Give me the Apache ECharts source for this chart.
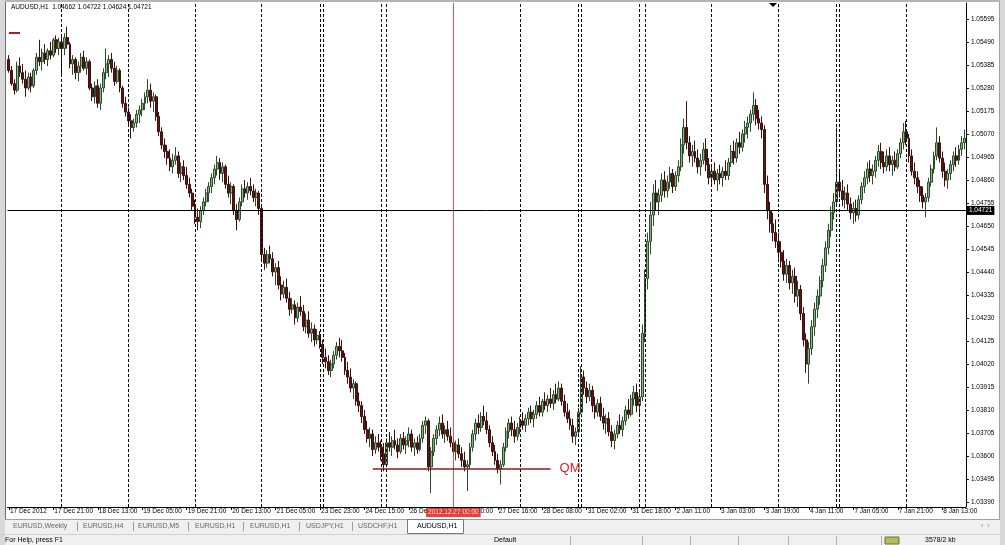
<!DOCTYPE html>
<html><head><meta charset="utf-8">
<script src="https://cdn.jsdelivr.net/npm/echarts/dist/echarts.min.js"></script>
<style>html,body{margin:0;padding:0;background:#fff}#c{width:1005px;height:545px}</style>
</head><body><div id="c"></div>
<script>
// ---- categories (trading sessions: day, first hour, last hour) ----
const sessions = [
 ['17 Dec',5,23],['18 Dec',0,23],['19 Dec',0,23],['20 Dec',0,23],['21 Dec',0,20],
 ['23 Dec',23,23],['24 Dec',0,20],['25 Dec',22,23],['26 Dec',0,23],['27 Dec',0,23],
 ['28 Dec',0,20],['30 Dec',23,23],['31 Dec',0,20],['1 Jan',22,23],['2 Jan',0,23],
 ['3 Jan',0,23],['4 Jan',0,20],['6 Jan',23,23],['7 Jan',0,23],['8 Jan',0,21]
];
const firstLabel = '17 Dec 2012';
const yTicks = [1.03390,1.03495,1.03600,1.03705,1.03810,1.03915,1.04020,1.04125,1.04230,1.04335,1.04440,1.04545,1.04650,1.04755,1.04860,1.04965,1.05070,1.05175,1.05280,1.05385,1.05490,1.05595];
const headerSymbol = 'AUDUSD,H1';
const headerOHLC = [1.04662, 1.04722, 1.04624, 1.04721];
const lastPrice = 1.04721;
const crossTime = '27 Dec 00:00';
const crossLabel = '2012.12.27 00:00';
const qmPrice = 1.03543, qmFrom = '24 Dec 18:00', qmTo = '28 Dec 11:00';
const markPrice = 1.05530, markFrom = '17 Dec 05:00', markTo = '17 Dec 09:00';
const tabs = ['EURUSD,Weekly','EURUSD,H4','EURUSD,M5','EURUSD,H1','EURUSD,H1','USDJPY,H1','USDCHF,H1','AUDUSD,H1'];

// ---- hourly bars [open, high, low, close] ----
const dec17 = [[1.0541,1.0543,1.0535,1.0536],[1.0536,1.0538,1.0529,1.0530],[1.0530,1.0532,1.0525,1.0527],[1.0527,1.0540,1.0526,1.0538],[1.0538,1.0542,1.0533,1.0535],[1.0535,1.0539,1.0530,1.0532],[1.0532,1.0536,1.0524,1.0528],[1.0528,1.0535,1.0527,1.0533],[1.0533,1.0535,1.0526,1.0529],[1.0529,1.0537,1.0528,1.0536],[1.0536,1.0544,1.0534,1.0542],[1.0542,1.0550,1.0538,1.0540],[1.0540,1.0546,1.0536,1.0544],[1.0544,1.0548,1.0539,1.0541],[1.0541,1.0546,1.0538,1.0545],[1.0545,1.0549,1.0541,1.0543],[1.0543,1.0551,1.0542,1.0550],[1.0550,1.0552,1.0544,1.0546],[1.0546,1.0551,1.0543,1.0549]];
const dec18 = [[1.0549,1.0552,1.0534,1.0546],[1.0546,1.0553,1.0543,1.0551],[1.0551,1.0556,1.0546,1.0548],[1.0548,1.0549,1.0537,1.0539],[1.0539,1.0543,1.0534,1.0541],[1.0541,1.0542,1.0532,1.0535],[1.0535,1.0540,1.0531,1.0538],[1.0538,1.0544,1.0535,1.0542],[1.0542,1.0545,1.0536,1.0537],[1.0537,1.0542,1.0534,1.0540],[1.0540,1.0541,1.0527,1.0528],[1.0528,1.0530,1.0522,1.0524],[1.0524,1.0531,1.0521,1.0529],[1.0529,1.0532,1.0519,1.0521],[1.0521,1.0530,1.0518,1.0528],[1.0528,1.0537,1.0526,1.0535],[1.0535,1.0546,1.0532,1.0539],[1.0539,1.0543,1.0533,1.0541],[1.0541,1.0544,1.0535,1.0537],[1.0537,1.0540,1.0529,1.0531],[1.0531,1.0538,1.0530,1.0536],[1.0536,1.0537,1.0526,1.0528],[1.0528,1.0529,1.0519,1.0521],[1.0521,1.0524,1.0515,1.0517]];
const dec19 = [[1.0517,1.0519,1.0511,1.0513],[1.0513,1.0516,1.0505,1.0510],[1.0510,1.0514,1.0508,1.0512],[1.0512,1.0518,1.0510,1.0516],[1.0516,1.0520,1.0512,1.0518],[1.0518,1.0523,1.0515,1.0521],[1.0521,1.0526,1.0518,1.0524],[1.0524,1.0532,1.0521,1.0527],[1.0527,1.0530,1.0519,1.0522],[1.0522,1.0526,1.0517,1.0524],[1.0524,1.0525,1.0513,1.0515],[1.0515,1.0517,1.0506,1.0508],[1.0508,1.0510,1.0500,1.0502],[1.0502,1.0505,1.0496,1.0499],[1.0499,1.0502,1.0493,1.0496],[1.0496,1.0500,1.0490,1.0492],[1.0492,1.0498,1.0489,1.0495],[1.0495,1.0501,1.0493,1.0497],[1.0497,1.0499,1.0487,1.0489],[1.0489,1.0494,1.0485,1.0492],[1.0492,1.0495,1.0486,1.0488],[1.0488,1.0492,1.0482,1.0484],[1.0484,1.0487,1.0478,1.0480],[1.0480,1.0482,1.0472,1.0474]];
const dec20 = [[1.0474,1.0477,1.0466,1.0469],[1.0469,1.0473,1.0463,1.0467],[1.0467,1.0474,1.0464,1.0472],[1.0472,1.0478,1.0470,1.0476],[1.0476,1.0482,1.0474,1.0480],[1.0480,1.0485,1.0476,1.0483],[1.0483,1.0489,1.0480,1.0487],[1.0487,1.0493,1.0484,1.0491],[1.0491,1.0497,1.0488,1.0494],[1.0494,1.0496,1.0486,1.0489],[1.0489,1.0494,1.0485,1.0492],[1.0492,1.0493,1.0482,1.0484],[1.0484,1.0488,1.0478,1.0480],[1.0480,1.0485,1.0475,1.0483],[1.0483,1.0484,1.0470,1.0472],[1.0472,1.0475,1.0463,1.0468],[1.0468,1.0478,1.0467,1.0476],[1.0476,1.0484,1.0474,1.0482],[1.0482,1.0486,1.0478,1.0480],[1.0480,1.0485,1.0477,1.0483],[1.0483,1.0487,1.0479,1.0481],[1.0481,1.0484,1.0476,1.0478],[1.0478,1.0482,1.0474,1.0480],[1.0480,1.0481,1.0470,1.0473]];
const dec21 = [[1.0473,1.0474,1.0449,1.0452],[1.0452,1.0455,1.0445,1.0448],[1.0448,1.0454,1.0446,1.0452],[1.0452,1.0456,1.0448,1.0450],[1.0450,1.0453,1.0442,1.0444],[1.0444,1.0448,1.0438,1.0446],[1.0446,1.0449,1.0436,1.0438],[1.0438,1.0442,1.0431,1.0434],[1.0434,1.0440,1.0432,1.0437],[1.0437,1.0441,1.0430,1.0432],[1.0432,1.0435,1.0424,1.0427],[1.0427,1.0432,1.0425,1.0429],[1.0429,1.0431,1.0420,1.0423],[1.0423,1.0430,1.0421,1.0428],[1.0428,1.0433,1.0424,1.0426],[1.0426,1.0429,1.0417,1.0419],[1.0419,1.0425,1.0416,1.0422],[1.0422,1.0426,1.0414,1.0416],[1.0416,1.0421,1.0412,1.0418],[1.0418,1.0420,1.0410,1.0413],[1.0413,1.0418,1.0411,1.0415]];
const dec23 = [[1.0415,1.0417,1.0409,1.0411]];
const dec24 = [[1.0411,1.0413,1.0402,1.0405],[1.0405,1.0409,1.0400,1.0403],[1.0403,1.0406,1.0397,1.0399],[1.0399,1.0404,1.0396,1.0402],[1.0402,1.0408,1.0400,1.0406],[1.0406,1.0412,1.0404,1.0410],[1.0410,1.0414,1.0405,1.0408],[1.0408,1.0413,1.0403,1.0405],[1.0405,1.0407,1.0397,1.0399],[1.0399,1.0403,1.0393,1.0396],[1.0396,1.0400,1.0389,1.0391],[1.0391,1.0395,1.0386,1.0393],[1.0393,1.0394,1.0383,1.0385],[1.0385,1.0389,1.0380,1.0383],[1.0383,1.0385,1.0375,1.0378],[1.0378,1.0381,1.0370,1.0372],[1.0372,1.0376,1.0366,1.0368],[1.0368,1.0373,1.0364,1.0370],[1.0370,1.0372,1.0360,1.0363],[1.0363,1.0369,1.0361,1.0366],[1.0366,1.0370,1.0362,1.0364]];
const dec25 = [[1.0364,1.0367,1.0358,1.0361],[1.0361,1.0366,1.0353,1.0356]];
const dec26 = [[1.0356,1.0368,1.0355,1.0366],[1.0366,1.0371,1.0362,1.0364],[1.0364,1.0369,1.0360,1.0367],[1.0367,1.0372,1.0363,1.0365],[1.0365,1.0368,1.0359,1.0362],[1.0362,1.0370,1.0361,1.0368],[1.0368,1.0371,1.0363,1.0365],[1.0365,1.0369,1.0361,1.0367],[1.0367,1.0373,1.0364,1.0370],[1.0370,1.0372,1.0362,1.0364],[1.0364,1.0368,1.0360,1.0366],[1.0366,1.0369,1.0361,1.0363],[1.0363,1.0370,1.0362,1.0368],[1.0368,1.0376,1.0366,1.0374],[1.0374,1.0378,1.0370,1.0376],[1.0376,1.0377,1.0353,1.0355],[1.0355,1.0364,1.0343,1.0362],[1.0362,1.0370,1.0360,1.0368],[1.0368,1.0374,1.0365,1.0372],[1.0372,1.0378,1.0369,1.0375],[1.0375,1.0379,1.0368,1.0370],[1.0370,1.0374,1.0366,1.0372],[1.0372,1.0376,1.0367,1.0369],[1.0369,1.0373,1.0364,1.0366]];
const dec27 = [[1.0366,1.0368,1.0360,1.0362],[1.0362,1.0367,1.0358,1.0365],[1.0365,1.0368,1.0359,1.0361],[1.0361,1.0364,1.0355,1.0358],[1.0358,1.0362,1.0353,1.0355],[1.0355,1.0358,1.0344,1.0356],[1.0356,1.0366,1.0354,1.0364],[1.0364,1.0372,1.0362,1.0370],[1.0370,1.0377,1.0367,1.0375],[1.0375,1.0379,1.0370,1.0373],[1.0373,1.0380,1.0371,1.0378],[1.0378,1.0383,1.0374,1.0376],[1.0376,1.0380,1.0370,1.0372],[1.0372,1.0374,1.0364,1.0366],[1.0366,1.0369,1.0360,1.0362],[1.0362,1.0365,1.0356,1.0358],[1.0358,1.0361,1.0352,1.0354],[1.0354,1.0358,1.0347,1.0356],[1.0356,1.0366,1.0355,1.0364],[1.0364,1.0373,1.0362,1.0371],[1.0371,1.0377,1.0368,1.0375],[1.0375,1.0378,1.0369,1.0372],[1.0372,1.0376,1.0366,1.0369],[1.0369,1.0375,1.0367,1.0373]];
const dec28 = [[1.0373,1.0378,1.0370,1.0376],[1.0376,1.0380,1.0372,1.0374],[1.0374,1.0379,1.0371,1.0377],[1.0377,1.0382,1.0374,1.0380],[1.0380,1.0383,1.0375,1.0377],[1.0377,1.0381,1.0373,1.0379],[1.0379,1.0385,1.0377,1.0383],[1.0383,1.0387,1.0378,1.0380],[1.0380,1.0386,1.0378,1.0385],[1.0385,1.0389,1.0381,1.0383],[1.0383,1.0388,1.0380,1.0386],[1.0386,1.0391,1.0382,1.0384],[1.0384,1.0390,1.0381,1.0388],[1.0388,1.0393,1.0384,1.0386],[1.0386,1.0394,1.0385,1.0391],[1.0391,1.0393,1.0383,1.0385],[1.0385,1.0388,1.0378,1.0380],[1.0380,1.0384,1.0375,1.0377],[1.0377,1.0381,1.0372,1.0374],[1.0374,1.0377,1.0366,1.0369],[1.0369,1.0373,1.0365,1.0371]];
const dec30 = [[1.0371,1.0382,1.0370,1.0380]];
const dec31 = [[1.0380,1.0401,1.0379,1.0396],[1.0396,1.0399,1.0388,1.0391],[1.0391,1.0394,1.0384,1.0387],[1.0387,1.0393,1.0385,1.0390],[1.0390,1.0392,1.0380,1.0383],[1.0383,1.0387,1.0377,1.0380],[1.0380,1.0386,1.0378,1.0384],[1.0384,1.0387,1.0376,1.0378],[1.0378,1.0382,1.0372,1.0375],[1.0375,1.0379,1.0370,1.0377],[1.0377,1.0380,1.0369,1.0371],[1.0371,1.0374,1.0364,1.0367],[1.0367,1.0372,1.0363,1.0370],[1.0370,1.0376,1.0368,1.0374],[1.0374,1.0379,1.0370,1.0372],[1.0372,1.0378,1.0369,1.0376],[1.0376,1.0383,1.0374,1.0381],[1.0381,1.0386,1.0377,1.0379],[1.0379,1.0388,1.0378,1.0386],[1.0386,1.0392,1.0383,1.0389],[1.0389,1.0393,1.0380,1.0383]];
const jan01 = [[1.0383,1.0390,1.0379,1.0387],[1.0387,1.0420,1.0385,1.0416]];
const jan02 = [[1.0416,1.0445,1.0412,1.0441],[1.0441,1.0462,1.0436,1.0458],[1.0458,1.0476,1.0452,1.0470],[1.0470,1.0484,1.0465,1.0480],[1.0480,1.0486,1.0472,1.0476],[1.0476,1.0482,1.0470,1.0479],[1.0479,1.0489,1.0476,1.0486],[1.0486,1.0490,1.0478,1.0481],[1.0481,1.0488,1.0478,1.0485],[1.0485,1.0492,1.0482,1.0489],[1.0489,1.0491,1.0480,1.0483],[1.0483,1.0490,1.0481,1.0488],[1.0488,1.0495,1.0485,1.0492],[1.0492,1.0505,1.0490,1.0502],[1.0502,1.0514,1.0498,1.0510],[1.0510,1.0522,1.0500,1.0503],[1.0503,1.0506,1.0494,1.0497],[1.0497,1.0502,1.0492,1.0499],[1.0499,1.0504,1.0494,1.0496],[1.0496,1.0500,1.0489,1.0492],[1.0492,1.0498,1.0488,1.0495],[1.0495,1.0503,1.0493,1.0500],[1.0500,1.0505,1.0490,1.0493],[1.0493,1.0496,1.0484,1.0487]];
const jan03 = [[1.0487,1.0493,1.0483,1.0490],[1.0490,1.0494,1.0484,1.0486],[1.0486,1.0491,1.0481,1.0489],[1.0489,1.0493,1.0484,1.0487],[1.0487,1.0492,1.0483,1.0490],[1.0490,1.0495,1.0486,1.0488],[1.0488,1.0496,1.0486,1.0494],[1.0494,1.0502,1.0492,1.0499],[1.0499,1.0504,1.0493,1.0496],[1.0496,1.0505,1.0494,1.0503],[1.0503,1.0508,1.0498,1.0501],[1.0501,1.0509,1.0499,1.0507],[1.0507,1.0513,1.0503,1.0510],[1.0510,1.0515,1.0505,1.0512],[1.0512,1.0518,1.0508,1.0516],[1.0516,1.0526,1.0513,1.0520],[1.0520,1.0523,1.0511,1.0514],[1.0514,1.0518,1.0509,1.0512],[1.0512,1.0515,1.0505,1.0509],[1.0509,1.0511,1.0480,1.0484],[1.0484,1.0488,1.0468,1.0472],[1.0472,1.0476,1.0462,1.0466],[1.0466,1.0471,1.0458,1.0462],[1.0462,1.0468,1.0455,1.0458]];
const jan04 = [[1.0458,1.0462,1.0450,1.0453],[1.0453,1.0458,1.0446,1.0449],[1.0449,1.0454,1.0440,1.0443],[1.0443,1.0450,1.0439,1.0447],[1.0447,1.0449,1.0436,1.0439],[1.0439,1.0445,1.0434,1.0442],[1.0442,1.0446,1.0430,1.0433],[1.0433,1.0440,1.0428,1.0436],[1.0436,1.0438,1.0422,1.0425],[1.0425,1.0428,1.0410,1.0413],[1.0413,1.0416,1.0398,1.0402],[1.0402,1.0412,1.0393,1.0409],[1.0409,1.0422,1.0406,1.0419],[1.0419,1.0430,1.0415,1.0427],[1.0427,1.0436,1.0423,1.0433],[1.0433,1.0442,1.0429,1.0440],[1.0440,1.0450,1.0437,1.0447],[1.0447,1.0458,1.0444,1.0455],[1.0455,1.0466,1.0452,1.0463],[1.0463,1.0474,1.0460,1.0471],[1.0471,1.0480,1.0468,1.0476]];
const jan06 = [[1.0476,1.0510,1.0474,1.0485]];
const jan07 = [[1.0485,1.0490,1.0478,1.0481],[1.0481,1.0486,1.0474,1.0477],[1.0477,1.0483,1.0473,1.0480],[1.0480,1.0484,1.0472,1.0475],[1.0475,1.0478,1.0468,1.0471],[1.0471,1.0476,1.0466,1.0473],[1.0473,1.0477,1.0467,1.0470],[1.0470,1.0479,1.0468,1.0477],[1.0477,1.0485,1.0475,1.0483],[1.0483,1.0490,1.0480,1.0487],[1.0487,1.0494,1.0484,1.0491],[1.0491,1.0495,1.0485,1.0488],[1.0488,1.0493,1.0484,1.0490],[1.0490,1.0497,1.0487,1.0495],[1.0495,1.0502,1.0492,1.0499],[1.0499,1.0503,1.0491,1.0494],[1.0494,1.0499,1.0489,1.0492],[1.0492,1.0500,1.0490,1.0497],[1.0497,1.0501,1.0490,1.0493],[1.0493,1.0497,1.0488,1.0495],[1.0495,1.0499,1.0490,1.0492],[1.0492,1.0500,1.0491,1.0498],[1.0498,1.0505,1.0496,1.0503],[1.0503,1.0512,1.0500,1.0508]];
const jan08 = [[1.0508,1.0513,1.0502,1.0505],[1.0505,1.0507,1.0494,1.0497],[1.0497,1.0500,1.0488,1.0490],[1.0490,1.0494,1.0484,1.0487],[1.0487,1.0490,1.0480,1.0483],[1.0483,1.0486,1.0476,1.0479],[1.0479,1.0483,1.0473,1.0476],[1.0476,1.0480,1.0469,1.0478],[1.0478,1.0487,1.0476,1.0485],[1.0485,1.0493,1.0483,1.0491],[1.0491,1.0499,1.0489,1.0497],[1.0497,1.0510,1.0495,1.0503],[1.0503,1.0506,1.0494,1.0496],[1.0496,1.0499,1.0487,1.0490],[1.0490,1.0494,1.0483,1.0486],[1.0486,1.0491,1.0482,1.0489],[1.0489,1.0495,1.0486,1.0493],[1.0493,1.0499,1.0490,1.0497],[1.0497,1.0501,1.0492,1.0495],[1.0495,1.0502,1.0493,1.0500],[1.0500,1.0506,1.0497,1.0503],[1.0503,1.0509,1.0500,1.0505]];

// ---- build ----
const days = [dec17,dec18,dec19,dec20,dec21,dec23,dec24,dec25,dec26,dec27,dec28,dec30,dec31,jan01,jan02,jan03,jan04,jan06,jan07,jan08];
const hh = h => String(h).padStart(2,'0') + ':00';
const categories = [];
sessions.forEach(s => { for (let h = s[1]; h <= s[2]; h++) categories.push(s[0] + ' ' + hh(h)); });
const candles = [].concat(...days).map(b => [b[0], b[3], b[2], b[1]]);
const dayStarts = sessions.slice(1).map(s => s[0] + ' ' + hh(s[1])).filter(c => c !== crossTime);

const FONT = "'Liberation Sans', Arial, sans-serif";
const sepLine = {color:'#000', type:[3,2], width:1};

const graphic = [
  {type:'rect', shape:{x:0,y:0,width:1005,height:2}, style:{fill:'#b4b4b4'}, z:100},
  {type:'rect', shape:{x:0,y:0,width:5,height:545}, style:{fill:'#d9d9d9'}, z:100},
  {type:'line', shape:{x1:5.5,y1:2,x2:5.5,y2:519}, style:{stroke:'#6e6e6e',lineWidth:1}, z:100},
  {type:'rect', shape:{x:1000,y:0,width:5,height:545}, style:{fill:'#d9d9d9'}, z:100},
  {type:'line', shape:{x1:999.5,y1:2,x2:999.5,y2:545}, style:{stroke:'#a0a0a0',lineWidth:1}, z:100},
  {type:'rect', shape:{x:5,y:519,width:995,height:26}, style:{fill:'#f0f0f0'}, z:100},
  {type:'line', shape:{x1:5,y1:519.5,x2:1000,y2:519.5}, style:{stroke:'#a0a0a0',lineWidth:1}, z:101},
  {type:'line', shape:{x1:0,y1:534.5,x2:1000,y2:534.5}, style:{stroke:'#d0d0d0',lineWidth:1}, z:101},
  {type:'rect', shape:{x:407.5,y:519.5,width:56,height:14}, style:{fill:'#fff',stroke:'#7a7a7a',lineWidth:1}, z:101},
  {type:'polygon', shape:{points:[[769,3],[777,3],[773,7]]}, style:{fill:'#000'}, z:101},
  {type:'text', x:5, y:540, style:{text:'For Help, press F1', font:'7px '+FONT, fill:'#000', textVerticalAlign:'middle'}, z:102},
  {type:'text', x:494, y:540, style:{text:'Default', font:'7px '+FONT, fill:'#000', textVerticalAlign:'middle'}, z:102},
  {type:'text', x:925, y:540, style:{text:'3578/2 kb', font:'7px '+FONT, fill:'#000', textVerticalAlign:'middle'}, z:102},
  {type:'rect', shape:{x:885,y:537,width:14,height:7}, style:{fill:'#b8b860',stroke:'#5a7a2a',lineWidth:1}, z:102},
  {type:'text', x:981, y:526, style:{text:'\u2039  \u203A', font:'7px '+FONT, fill:'#888', textVerticalAlign:'middle'}, z:102}
];
[570,642,690,738,788,836,881].forEach(x => graphic.push({type:'line', shape:{x1:x+.5,y1:536,x2:x+.5,y2:545}, style:{stroke:'#b0b0b0',lineWidth:1}, z:102}));
const tabX = [13,83,138,195,250,306,358,417];
tabs.forEach((t,i) => graphic.push({type:'text', x:tabX[i], y:526.5, style:{text:t, font:'7px '+FONT, fill: i === tabs.length-1 ? '#000' : '#666', textVerticalAlign:'middle'}, z:102}));
[77,133,188,243,299,352].forEach(x => graphic.push({type:'line', shape:{x1:x+.5,y1:522,x2:x+.5,y2:531}, style:{stroke:'#9a9a9a',lineWidth:1}, z:102}));

const chart = echarts.init(document.getElementById('c'));
chart.setOption({
  animation: false,
  backgroundColor: '#ffffff',
  title: {
    text: headerSymbol + '  ' + headerOHLC.map(v => v.toFixed(5)).join(' '),
    left: 11, top: 4, padding: 0,
    textStyle: {fontSize: 6.5, fontWeight: 'normal', color: '#000', fontFamily: FONT}
  },
  grid: {left: 7.5, right: 39.1, top: 3, bottom: 38},
  xAxis: {
    type: 'category', data: categories, boundaryGap: true,
    axisLine: {show: true, lineStyle: {color: '#000', width: 1}},
    axisTick: {show: true, interval: 15, alignWithLabel: true, length: 3, lineStyle: {color: '#000'}},
    axisLabel: {interval: 15, align: 'left', margin: 1, padding: [0,0,0,1], fontSize: 6.5, color: '#000', fontFamily: FONT,
      formatter: (v, i) => i === 0 ? firstLabel : v},
    splitLine: {show: false}
  },
  yAxis: {
    type: 'value', position: 'right', min: 1.03367, max: 1.05668, scale: true,
    splitLine: {show: false},
    axisLine: {show: true, lineStyle: {color: '#000', width: 1}},
    axisTick: {show: true, length: 3, customValues: yTicks, lineStyle: {color: '#000'}},
    axisLabel: {customValues: yTicks, formatter: v => v.toFixed(5), fontSize: 6.5, color: '#000', margin: 5, fontFamily: FONT}
  },
  graphic: graphic,
  series: [{
    type: 'candlestick',
    data: candles,
    barWidth: 2.4,
    itemStyle: {color: '#93ad8f', color0: '#5e1818', borderColor: '#274f27', borderColor0: '#3f0e0e', borderWidth: 1},
    markLine: {
      symbol: ['none','none'], silent: true, animation: false, precision: 5,
      data: [
        ...dayStarts.map(c => ({xAxis: c, lineStyle: sepLine, label: {show: false}})),
        {xAxis: crossTime, lineStyle: {color: '#e53030', type: 'solid', width: 1, opacity: 0.85},
          label: {show: true, position: 'start', formatter: crossLabel, backgroundColor: '#e3201c', color: '#fff',
                  fontSize: 6.5, fontFamily: FONT, padding: [1,2,1,2], distance: 1}},
        {yAxis: lastPrice, lineStyle: {color: '#000', type: 'solid', width: 1},
          label: {show: true, position: 'end', formatter: lastPrice.toFixed(5), backgroundColor: '#000', color: '#fff',
                  fontSize: 6.5, fontFamily: FONT, padding: [1,2,1,2], distance: 1}},
        [{coord: [qmFrom, qmPrice], lineStyle: {color: '#8e1c1c', type: 'solid', width: 1.5},
          label: {show: true, position: 'end', formatter: 'QM', color: '#e0201c', fontSize: 13, fontFamily: FONT, distance: 9}},
         {coord: [qmTo, qmPrice]}],
        [{coord: [markFrom, markPrice], lineStyle: {color: '#a32222', type: 'solid', width: 2}, label: {show: false}},
         {coord: [markTo, markPrice]}]
      ]
    }
  }]
});
</script></body></html>
